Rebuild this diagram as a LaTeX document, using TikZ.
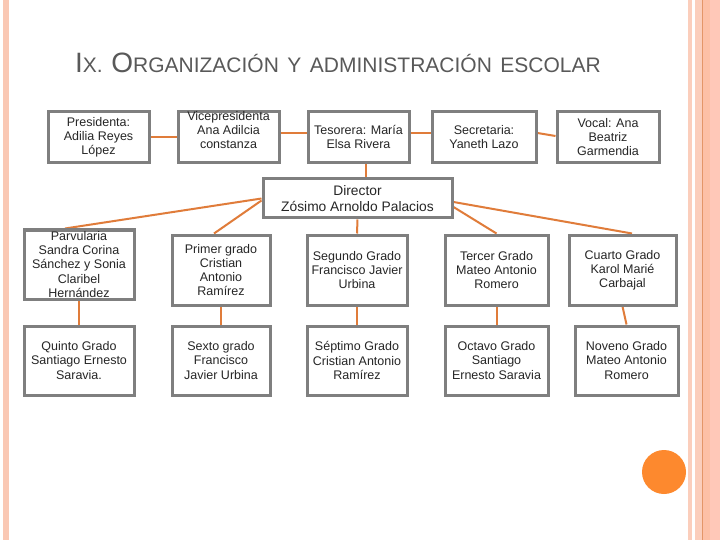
\documentclass[tikz,border=0pt]{standalone}
\usepackage{fontspec}
\setmainfont{Liberation Sans}
\newfontfamily\titlefont{Liberation Sans}
\usetikzlibrary{backgrounds}
\definecolor{boxgray}{RGB}{127,127,127}
\definecolor{lineor}{RGB}{224,124,58}
\definecolor{circor}{RGB}{253,137,46}
\definecolor{txtcol}{RGB}{38,38,38}
\definecolor{titlecol}{RGB}{89,89,89}
\definecolor{stripeA}{RGB}{250,200,180}
\definecolor{stripeB}{RGB}{251,206,188}
\definecolor{stripeC}{RGB}{253,192,166}
\definecolor{stripeD}{RGB}{255,200,184}
\definecolor{stripeL}{RGB}{228,150,104}
\newcommand{\tsp}{\hspace{8.5pt}}
\tikzset{
  bx/.style 2 args={draw=boxgray, line width=3pt, fill=white, inner sep=0pt,
    minimum width=#1pt, minimum height=#2pt},
  txt/.style={align=center, inner sep=0pt, text=txtcol,
    font=\fontsize{12.5}{14.2}\selectfont},
  dtxt/.style={align=center, inner sep=0pt, text=txtcol,
    font=\fontsize{13.8}{16}\selectfont},
  conn/.style={draw=lineor, line width=2pt}
}
\begin{document}
\begin{tikzpicture}[x=1pt,y=-1pt]
\useasboundingbox (0,0) rectangle (720,540);

% title
\node[anchor=base west, text=titlecol, inner sep=0pt] (title) at (75,73)
  {\titlefont\fontsize{28}{30}\selectfont I\fontsize{21}{24}\selectfont X.\tsp\fontsize{28}{30}\selectfont O\fontsize{21}{24}\selectfont RGANIZACIÓN\tsp Y\tsp ADMINISTRACIÓN\tsp ESCOLAR};

% top row
\node[bx={101}{51}] (pres) at (98.5,137) {};
\node[bx={101}{51}] (vice) at (228.5,137) {};
\node[bx={101}{51}] (teso) at (358.5,137) {};
\node[bx={104}{51}] (secr) at (484,137) {};
\node[bx={102}{51}] (voc)  at (608,137) {};
% director
\node[bx={189}{39}] (dir) at (357.5,198.5) {};
% second row
\node[bx={110}{69}] (parv) at (79,264.5) {};
\node[bx={98}{70}]  (prim) at (221,270) {};
\node[bx={100}{70}] (segu) at (357,270) {};
\node[bx={103}{70}] (terc) at (496.5,270) {};
\node[bx={107}{70}] (cuar) at (622.5,270) {};
% third row
\node[bx={110}{69}] (quin) at (79,360.5) {};
\node[bx={98}{69}]  (sext) at (221,360.5) {};
\node[bx={100}{69}] (sept) at (357,360.5) {};
\node[bx={103}{69}] (octa) at (496.5,360.5) {};
\node[bx={103}{69}] (nove) at (626.5,360.5) {};

% texts
\node[txt] (prest) at (pres.center) {Presidenta:\\Adilia Reyes\\López};
\node[txt] (vicet) at ([yshift=7pt]vice.center) {Vicepresidenta\\Ana Adilcia\\constanza};
\node[txt] (tesot) at (teso.center) {Tesorera: María\\Elsa Rivera};
\node[txt] (secrt) at (secr.center) {Secretaria:\\Yaneth Lazo};
\node[txt] (voct)  at (voc.center) {Vocal: Ana\\Beatriz\\Garmendia};
\node[dtxt] (dirt) at (dir.center) {Director\\Zósimo Arnoldo Palacios};
\node[txt] (parvt) at (parv.center) {Parvularia\\Sandra Corina\\Sánchez y Sonia\\Claribel\\Hernández};
\node[txt] (primt) at (prim.center) {Primer grado\\Cristian\\Antonio\\Ramírez};
\node[txt] (segut) at (segu.center) {Segundo Grado\\Francisco Javier\\Urbina};
\node[txt] (terct) at (terc.center) {Tercer Grado\\Mateo Antonio\\Romero};
\node[txt] (cuart) at (cuar.center) {Cuarto Grado\\Karol Marié\\Carbajal};
\node[txt] (quint) at (quin.center) {Quinto Grado\\Santiago Ernesto\\Saravia.};
\node[txt] (sextt) at (sext.center) {Sexto grado\\Francisco\\Javier Urbina};
\node[txt] (septt) at (sept.center) {Séptimo Grado\\Cristian Antonio\\Ramírez};
\node[txt] (octat) at (octa.center) {Octavo Grado\\Santiago\\Ernesto Saravia};
\node[txt] (novet) at (nove.center) {Noveno Grado\\Mateo Antonio\\Romero};

\begin{scope}[on background layer]
  \fill[white] (0,0) rectangle (720,540);
  % left stripe
  \fill[stripeA] (3,0) rectangle (9,540);
  % right stripes
  \fill[stripeB] (688,0) rectangle (691.5,540);
  \fill[stripeB] (694.5,0) rectangle (702,540);
  \fill[stripeL] (702,0) rectangle (703.2,540);
  \fill[stripeC] (703.2,0) rectangle (709.5,540);
  \fill[stripeD] (709.5,0) rectangle (720,540);
  % connectors
  \draw[conn] (pres.east) -- (vice.west);
  \draw[conn] ([yshift=4pt]vice.east) -- ([yshift=4pt]teso.west);
  \draw[conn] ([yshift=4pt]teso.east) -- ([yshift=4pt]secr.west);
  \draw[conn] ([yshift=4pt]secr.east) -- ([yshift=1pt]voc.west);
  \draw[conn] ([xshift=7.5pt]teso.south) -- ([xshift=8.5pt]dir.north);
  \draw[conn] (dir.west) -- ([xshift=-14pt]parv.north);
  \draw[conn] ([yshift=-2pt]dir.west) -- ([xshift=-7pt]prim.north);
  \draw[conn] (dir.south) -- (segu.north);
  \draw[conn] ([yshift=-8.5pt]dir.east) -- (terc.north);
  \draw[conn] ([yshift=-3.5pt]dir.east) -- ([xshift=9.5pt]cuar.north);
  \draw[conn] (parv.south) -- (quin.north);
  \draw[conn] (prim.south) -- (sext.north);
  \draw[conn] (segu.south) -- (sept.north);
  \draw[conn] (terc.south) -- (octa.north);
  \draw[conn] (cuar.south) -- (nove.north);
\end{scope}

% orange dot
\fill[circor] (664,472) circle[radius=22pt];
\end{tikzpicture}
\end{document}
